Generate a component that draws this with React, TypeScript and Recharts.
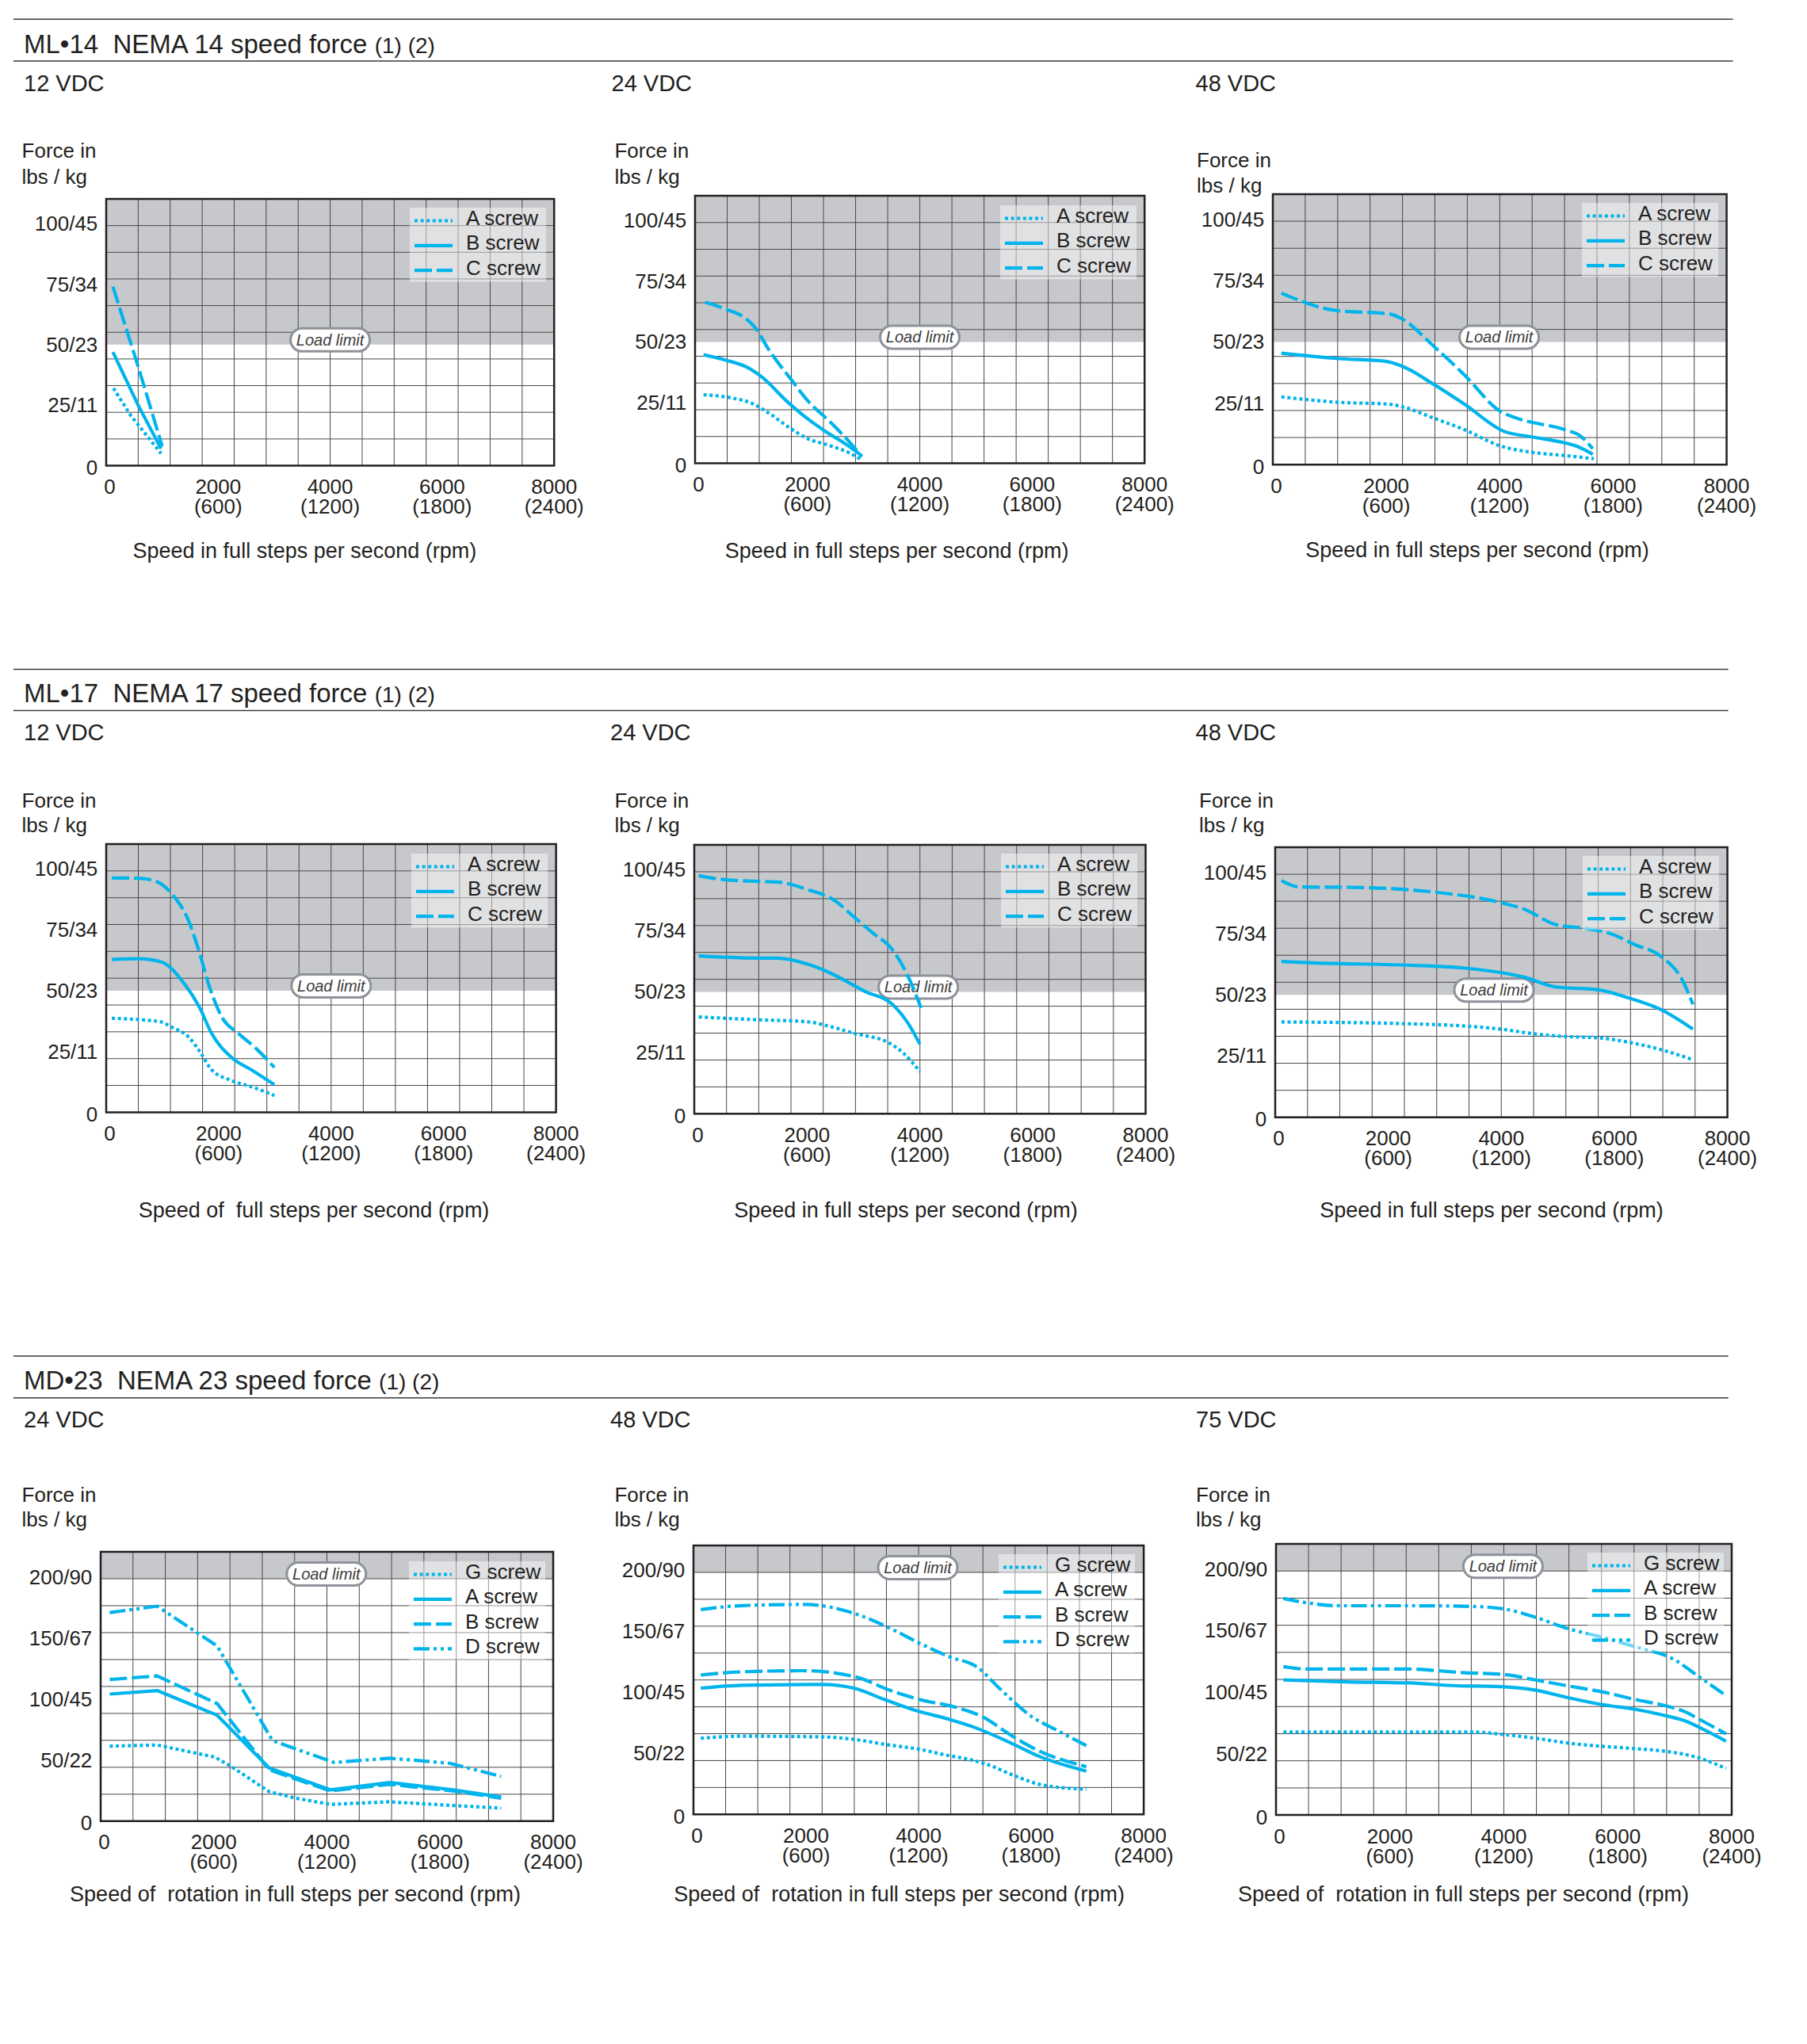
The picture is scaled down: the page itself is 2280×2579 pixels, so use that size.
import React from 'react';
import {
  LineChart,
  Line,
  XAxis,
  YAxis,
  CartesianGrid,
  ReferenceArea,
  ReferenceDot,
  Legend,
} from 'recharts';

const FONT = '"Liberation Sans", Arial, Helvetica, sans-serif';
const INK = '#231f20';
const CYAN = '#00b4ec';
const LIMIT_GRAY = '#c7c8cc';
const GRID = '#474747';
const BADGE_EDGE = '#8d9299';

const LB_PER_KG = 2.20462;

// Speed axis: full steps per second, with rpm underneath
const SPEED_TICKS = [0, 2000, 4000, 6000, 8000];
const RPM_LABELS = ['', '(600)', '(1200)', '(1800)', '(2400)'];

// Force axes: value in lbs, label "lbs/kg"
const FORCE_TICKS_S = [0, 25, 50, 75, 100];
const FORCE_LABELS_S = ['0', '25/11', '50/23', '75/34', '100/45'];
const FORCE_TICKS_L = [0, 50, 100, 150, 200];
const FORCE_LABELS_L = ['0', '50/22', '100/45', '150/67', '200/90'];

// Load limits (lbs)
const LOAD_LIMIT_S = 50;
const LOAD_LIMIT_L = 90 * LB_PER_KG;

// ---- ML•14 (speed, lbs) ----
const ml14_12_A = [[130, 32], [430, 21], [980, 5]];
const ml14_12_B = [[120, 47], [570, 25], [980, 7]];
const ml14_12_C = [[120, 74], [570, 41], [1000, 8]];

const ml14_24_A = [[150, 28.2], [630, 27], [1040, 24.4], [1310, 20.7], [1720, 14], [2000, 10.2], [2410, 7.2], [2750, 4.2], [2950, 1.6]];
const ml14_24_B = [[150, 44.7], [560, 42.4], [940, 39.4], [1180, 35.7], [1650, 25.2], [2000, 18.4], [2270, 13.9], [2680, 7.9], [2950, 3.4]];
const ml14_24_C = [[180, 66.4], [560, 63.4], [900, 59.7], [1070, 55.9], [1310, 46.9], [1720, 34.2], [2000, 25.9], [2410, 16.9], [2750, 8.7], [2970, 2.7]];

const ml14_48_A = [[150, 27.6], [1160, 25.4], [2060, 24.6], [2310, 23.4], [2830, 19], [3380, 14.2], [4010, 7.6], [4570, 5], [5190, 3.6], [5660, 2.4]];
const ml14_48_B = [[150, 45.4], [1160, 43.2], [1990, 42.1], [2270, 40.2], [2830, 32.8], [3380, 24.6], [4080, 13.5], [4570, 11.3], [5190, 8.6], [5400, 7.1], [5640, 4.2]];
const ml14_48_C = [[150, 69.9], [1090, 62.9], [2060, 61.4], [2270, 59.5], [2830, 48.4], [3380, 36.5], [4010, 21.7], [4290, 19], [5190, 13.9], [5400, 12], [5640, 6.5]];

// ---- ML•17 ----
const ml17_12_A = [[100, 38.6], [570, 38.1], [980, 37.1], [1180, 34.8], [1460, 31.1], [1660, 25.1], [1870, 17.6], [2210, 13.2], [2620, 10.2], [2990, 6.9]];
const ml17_12_B = [[100, 62.8], [570, 63.1], [980, 61.8], [1390, 52.8], [1660, 43.1], [1870, 32.6], [2210, 22.9], [2620, 16.9], [2990, 11.4]];
const ml17_12_C = [[100, 96.3], [570, 96.2], [910, 94.7], [1180, 89.4], [1460, 79], [1660, 65.5], [1830, 52], [2070, 38.6], [2340, 32.6], [2680, 25.9], [2990, 18.4]];

const ml17_24_A = [[80, 39.7], [1060, 38.6], [2010, 37.7], [2420, 35.7], [2830, 33], [3440, 29.2], [3710, 24.8], [4000, 17.3]];
const ml17_24_B = [[80, 64.7], [1190, 63.8], [1460, 63.8], [2010, 61.3], [2420, 57.6], [3030, 50.1], [3510, 44.9], [3780, 37.4], [4000, 28.5]];
const ml17_24_C = [[80, 97.6], [370, 96.4], [1060, 95.3], [1460, 95], [2010, 91.9], [2490, 87.4], [2830, 80.7], [3170, 74], [3510, 67.3], [3780, 56.8], [4020, 43.4]];

const ml17_48_A = [[110, 38.9], [2310, 38.2], [3980, 36], [4540, 34.2], [5100, 33], [5730, 32.4], [6280, 30.5], [6840, 27.5], [7390, 23.5]];
const ml17_48_B = [[110, 63.6], [570, 63.1], [2310, 62.1], [3350, 60.9], [3980, 59.1], [4400, 57.2], [4960, 53.2], [5730, 52], [6210, 49], [6840, 43.8], [7390, 36]];
const ml17_48_C = [[110, 96.6], [430, 94], [1260, 93.9], [2870, 91.8], [3980, 87.7], [4400, 85], [4960, 78.7], [5520, 77], [5930, 75], [6350, 70.6], [6840, 65.4], [7190, 56.5], [7390, 46.1]];

// ---- MD•23 ----
const md23_24_G = [[160, 61.4], [1000, 62.3], [2020, 52.4], [2300, 45], [2980, 24.1], [3450, 18.8], [4060, 13.7], [5110, 15.8], [6230, 12.8], [7080, 10.7]];
const md23_24_A = [[160, 104], [1000, 106.9], [2060, 86.7], [2980, 43.5], [4060, 25.6], [5110, 31.6], [6230, 25.6], [7080, 19.7]];
const md23_24_B = [[160, 115.9], [1000, 118.9], [2060, 96.2], [2980, 42], [4060, 24.7], [5110, 30.1], [6230, 24.7], [7080, 18.8]];
const md23_24_D = [[160, 170.7], [1000, 176], [2060, 143.3], [3040, 65.8], [4130, 48], [5110, 51.5], [6170, 47.4], [7080, 36.6]];

const md23_48_G = [[130, 62.4], [870, 64.1], [2300, 63.5], [2850, 61.5], [3460, 57], [4010, 53.4], [4490, 48.6], [4960, 44.4], [5240, 40.6], [5710, 31.6], [6190, 24.2], [6980, 20.6]];
const md23_48_A = [[130, 103.5], [870, 105.9], [2300, 106.5], [2850, 103.5], [3390, 94.3], [3940, 85.3], [4550, 77.9], [4960, 71.9], [5710, 57], [6120, 48], [6980, 35.5]];
const md23_48_B = [[130, 114.3], [870, 116.9], [1960, 117.8], [2920, 112.2], [3460, 102.3], [4010, 94.3], [4690, 87.4], [5100, 80.8], [5710, 62.9], [6120, 52.5], [6980, 39.1]];
const md23_48_D = [[130, 167.9], [870, 171.2], [1960, 172.1], [2920, 163.8], [3460, 153.3], [4010, 140.5], [4550, 129.2], [5030, 121.1], [5440, 103.2], [5990, 80.8], [6460, 68.9], [6980, 56.4]];

const md23_75_G = [[130, 67.5], [3450, 67.5], [4010, 65.4], [4560, 62.4], [5110, 58.6], [6220, 54.2], [6840, 51.8], [7400, 46.8], [7900, 37.9]];
const md23_75_A = [[130, 109.8], [1240, 108.3], [2350, 107.4], [3180, 105.1], [3870, 104.5], [4560, 101.5], [5110, 95.6], [5740, 89.7], [6290, 86.1], [6840, 80.8], [7190, 76.4], [7470, 70.4], [7900, 60.1]];
const md23_75_B = [[130, 120.7], [550, 118.7], [2280, 118.7], [3320, 115.7], [4010, 114.2], [4560, 109.8], [5110, 105.1], [5740, 100], [6290, 94.1], [6840, 88.8], [7190, 83.8], [7470, 76.9], [7900, 66]];
const md23_75_D = [[130, 176.1], [550, 172.5], [1100, 170.2], [2280, 170.2], [3450, 169.6], [4010, 167.5], [4560, 160.7], [5110, 151.8], [5740, 144.4], [6290, 137], [6980, 126.7], [7400, 113.3], [7900, 97.1]];

// Line patterns
const DOTTED = '4 3.6';
const DASHED = '22 6';
const DASH_DOT_DOT = '20 5 4 5 4 5';
const LINE_W = 4.2;

// Grid: every 5 kg / 10 kg horizontally, 14 divisions of the speed range
const V_GRID = Array.from({ length: 13 }, (_, k) => ((k + 1) * 8000) / 14);
const H_GRID_S = Array.from({ length: 9 }, (_, k) => (k + 1) * 5 * LB_PER_KG);
const H_GRID_L = Array.from({ length: 9 }, (_, k) => (k + 1) * 10 * LB_PER_KG);
const MAX_S = 50 * LB_PER_KG;
const MAX_L = 100 * LB_PER_KG;

type Series = { name: string; data: number[][]; dash?: string };
type PanelSpec = {
  left: number;
  top: number;
  w: number;
  h: number;
  large: boolean;
  badgeX: number;
  curve: 'monotone' | 'linear';
  series: Series[];
};

const abc = (a: number[][], b: number[][], c: number[][]): Series[] => [
  { name: 'A screw', data: a, dash: DOTTED },
  { name: 'B screw', data: b },
  { name: 'C screw', data: c, dash: DASHED },
];
const gabd = (g: number[][], a: number[][], b: number[][], d: number[][]): Series[] => [
  { name: 'G screw', data: g, dash: DOTTED },
  { name: 'A screw', data: a },
  { name: 'B screw', data: b, dash: DASHED },
  { name: 'D screw', data: d, dash: DASH_DOT_DOT },
];

const PANELS: PanelSpec[] = [
  { left: 134.3, top: 250.7, w: 565.2, h: 336.5, large: false, badgeX: 4000, curve: 'linear', series: abc(ml14_12_A, ml14_12_B, ml14_12_C) },
  { left: 877.2, top: 247.0, w: 567.2, h: 337.5, large: false, badgeX: 4000, curve: 'monotone', series: abc(ml14_24_A, ml14_24_B, ml14_24_C) },
  { left: 1606, top: 244.7, w: 572.6, h: 341.2, large: false, badgeX: 3990, curve: 'monotone', series: abc(ml14_48_A, ml14_48_B, ml14_48_C) },
  { left: 134.3, top: 1065.4, w: 567.6, h: 338.4, large: false, badgeX: 4000, curve: 'monotone', series: abc(ml17_12_A, ml17_12_B, ml17_12_C) },
  { left: 875.8, top: 1065.9, w: 569.5, h: 339.3, large: false, badgeX: 3970, curve: 'monotone', series: abc(ml17_24_A, ml17_24_B, ml17_24_C) },
  { left: 1609, top: 1068.6, w: 570.6, h: 340.7, large: false, badgeX: 3870, curve: 'monotone', series: abc(ml17_48_A, ml17_48_B, ml17_48_C) },
  { left: 127, top: 1958.4, w: 571, h: 339.8, large: true, badgeX: 3990, curve: 'linear', series: gabd(md23_24_G, md23_24_A, md23_24_B, md23_24_D) },
  { left: 874.8, top: 1949.7, w: 568.1, h: 339.3, large: true, badgeX: 3985, curve: 'monotone', series: gabd(md23_48_G, md23_48_A, md23_48_B, md23_48_D) },
  { left: 1610, top: 1947.8, w: 575, h: 342.1, large: true, badgeX: 3985, curve: 'monotone', series: gabd(md23_75_G, md23_75_A, md23_75_B, md23_75_D) },
];

// Section headers and per-panel captions
const SECTIONS = [
  { ruleTop: 24.3, ruleBot: 77.1, ruleEnd: 2186.6, base: 66.6, title: 'ML\u202214  NEMA 14 speed force ' },
  { ruleTop: 844.6, ruleBot: 896.5, ruleEnd: 2180.6, base: 885.9, title: 'ML\u202217  NEMA 17 speed force ' },
  { ruleTop: 1711, ruleBot: 1763.7, ruleEnd: 2180.6, base: 1752.7, title: 'MD\u202223  NEMA 23 speed force ' },
];

const CAPTIONS = [
  { volt: '12 VDC', vx: 30, vy: 114.8, fx: 27.6, fy: 198.8, ly: 231.9, xt: 'Speed in full steps per second (rpm)', tx: 384.4, ty: 703.9 },
  { volt: '24 VDC', vx: 771.5, vy: 114.8, fx: 775.4, fy: 198.8, ly: 231.9, xt: 'Speed in full steps per second (rpm)', tx: 1131.7, ty: 703.9 },
  { volt: '48 VDC', vx: 1508.5, vy: 114.8, fx: 1510, fy: 211.2, ly: 243.0, xt: 'Speed in full steps per second (rpm)', tx: 1864, ty: 702.5 },
  { volt: '12 VDC', vx: 30, vy: 934.1, fx: 27.6, fy: 1019.1, ly: 1050.3, xt: 'Speed of  full steps per second (rpm)', tx: 396, ty: 1535.6 },
  { volt: '24 VDC', vx: 770, vy: 934.1, fx: 775.4, fy: 1019.1, ly: 1050.3, xt: 'Speed in full steps per second (rpm)', tx: 1143, ty: 1535.6 },
  { volt: '48 VDC', vx: 1508.5, vy: 934.1, fx: 1513, fy: 1019.1, ly: 1050.3, xt: 'Speed in full steps per second (rpm)', tx: 1882, ty: 1535.6 },
  { volt: '24 VDC', vx: 30, vy: 1800.9, fx: 27.6, fy: 1895, ly: 1925.8, xt: 'Speed of  rotation in full steps per second (rpm)', tx: 372.5, ty: 2398.7 },
  { volt: '48 VDC', vx: 770, vy: 1800.9, fx: 775.4, fy: 1895, ly: 1925.8, xt: 'Speed of  rotation in full steps per second (rpm)', tx: 1134.6, ty: 2398.7 },
  { volt: '75 VDC', vx: 1509, vy: 1800.9, fx: 1509, fy: 1895, ly: 1925.8, xt: 'Speed of  rotation in full steps per second (rpm)', tx: 1846.5, ty: 2398.7 },
];

const toPoints = (arr: number[][]) => arr.map(([x, y]) => ({ x, y }));

const ML = 110;
const MT = 12;
const MR = 70;
const XH = 80;
const LEGEND_W = 172;

function SpeedTick(props: any) {
  const { x, y, payload } = props;
  const i = SPEED_TICKS.indexOf(payload.value);
  return (
    <g>
      <text
        x={x + (payload.value === 0 ? 4.5 : 0)}
        y={y + 35.5}
        textAnchor="middle"
        fontSize={26}
        fontFamily={FONT}
        fill={INK}
      >
        {payload.value}
      </text>
      {RPM_LABELS[i] ? (
        <text x={x} y={y + 60.5} textAnchor="middle" fontSize={26} fontFamily={FONT} fill={INK}>
          {RPM_LABELS[i]}
        </text>
      ) : null}
    </g>
  );
}

function ForceTick(props: any) {
  const { x, y, payload, ticks, labels } = props;
  const i = ticks.indexOf(payload.value);
  return (
    <text
      x={x - 10.7}
      y={y + (payload.value === 0 ? 11.5 : 9)}
      textAnchor="end"
      fontSize={26}
      fontFamily={FONT}
      fill={INK}
    >
      {labels[i]}
    </text>
  );
}

function LoadLimitBadge(props: any) {
  const { cx, cy } = props;
  if (cx == null || cy == null) return null;
  const c = cy - 6;
  return (
    <g>
      <rect x={cx - 50} y={c - 14.5} width={100} height={29} rx={14.5} fill="#fff" stroke={BADGE_EDGE} strokeWidth={3} />
      <text x={cx} y={c + 7} textAnchor="middle" fontStyle="italic" fontSize={20} fontFamily={FONT} fill="#3b3b3b">
        Load limit
      </text>
    </g>
  );
}

function LegendBox({ series, h }: { series: Series[]; h: number }) {
  return (
    <svg width={LEGEND_W} height={h} style={{ display: 'block', overflow: 'visible' }}>
      <rect x={0} y={0} width={LEGEND_W} height={h} fill="#fff" fillOpacity={0.45} />
      {series.map((s, i) => {
        const base = 22 + i * 31.3;
        return (
          <g key={s.name}>
            <line
              x1={6}
              x2={54}
              y1={base - 5.5}
              y2={base - 5.5}
              stroke={CYAN}
              strokeWidth={LINE_W}
              strokeDasharray={s.dash}
            />
            <text x={71} y={base} fontSize={26} fontFamily={FONT} fill={INK}>
              {s.name}
            </text>
          </g>
        );
      })}
    </svg>
  );
}

function ChartPanel({ p }: { p: PanelSpec }) {
  const yMax = p.large ? MAX_L : MAX_S;
  const yTicks = p.large ? FORCE_TICKS_L : FORCE_TICKS_S;
  const yLabels = p.large ? FORCE_LABELS_L : FORCE_LABELS_S;
  const hGrid = p.large ? H_GRID_L : H_GRID_S;
  const limit = p.large ? LOAD_LIMIT_L : LOAD_LIMIT_S;
  const legendH = p.series.length * 31.3 - 0.5;

  return (
    <div style={{ position: 'absolute', left: p.left - ML, top: p.top - MT }}>
      <LineChart
        width={p.w + ML + MR}
        height={p.h + MT + XH}
        margin={{ top: MT, right: MR, bottom: 0, left: 0 }}
      >
        <XAxis
          type="number"
          dataKey="x"
          domain={[0, 8000]}
          ticks={SPEED_TICKS}
          interval={0}
          allowDataOverflow
          axisLine={false}
          tickLine={false}
          tickSize={0}
          tickMargin={0}
          height={XH}
          tick={(props: any) => <SpeedTick {...props} />}
        />
        <YAxis
          type="number"
          domain={[0, yMax]}
          ticks={yTicks}
          interval={0}
          allowDataOverflow
          axisLine={false}
          tickLine={false}
          tickSize={0}
          tickMargin={0}
          width={ML}
          tick={(props: any) => <ForceTick {...props} ticks={yTicks} labels={yLabels} />}
        />
        <ReferenceArea
          x1={0}
          x2={8000}
          y1={limit}
          y2={yMax}
          fill={LIMIT_GRAY}
          fillOpacity={1}
          stroke="none"
          zIndex={-200}
        />
        <CartesianGrid stroke={GRID} strokeWidth={1} horizontalValues={hGrid} verticalValues={V_GRID} />
        <ReferenceDot
          x={p.badgeX}
          y={limit}
          r={0}
          zIndex={350}
          shape={(props: any) => <LoadLimitBadge {...props} />}
        />
        {p.series.map((s) => (
          <Line
            key={s.name}
            data={toPoints(s.data)}
            dataKey="y"
            type={p.curve}
            stroke={CYAN}
            strokeWidth={LINE_W}
            strokeDasharray={s.dash}
            strokeLinecap="butt"
            strokeLinejoin="round"
            dot={false}
            activeDot={false}
            isAnimationActive={false}
          />
        ))}
        <ReferenceArea
          x1={0}
          x2={8000}
          y1={0}
          y2={yMax}
          fill="none"
          stroke={INK}
          strokeWidth={2.5}
          zIndex={1000}
        />
        <Legend
          layout="horizontal"
          verticalAlign="middle"
          align="center"
          wrapperStyle={{
            left: ML + p.w - 10.5 - LEGEND_W,
            top: MT + 11.5,
            width: LEGEND_W,
            height: legendH,
            margin: 0,
            padding: 0,
          }}
          content={() => <LegendBox series={p.series} h={legendH} />}
        />
      </LineChart>
    </div>
  );
}

export default function App() {
  return (
    <div
      style={{
        position: 'absolute',
        left: 0,
        top: 0,
        width: 2280,
        height: 2579,
        background: '#fff',
        fontFamily: FONT,
      }}
    >
      <svg width={2280} height={2579} style={{ position: 'absolute', left: 0, top: 0 }}>
        {SECTIONS.map((s) => (
          <g key={s.title}>
            <line x1={17} x2={s.ruleEnd} y1={s.ruleTop} y2={s.ruleTop} stroke="#3a3a3a" strokeWidth={1.5} />
            <line x1={17} x2={s.ruleEnd} y1={s.ruleBot} y2={s.ruleBot} stroke="#3a3a3a" strokeWidth={1.5} />
            <text x={30} y={s.base} fontSize={33} fontFamily={FONT} fill={INK} style={{ whiteSpace: 'pre' }}>
              <tspan>{s.title}</tspan>
              <tspan fontSize={28}>(1) (2)</tspan>
            </text>
          </g>
        ))}
        {CAPTIONS.map((c, i) => (
          <g key={i}>
            <text x={c.vx} y={c.vy} fontSize={29} fontFamily={FONT} fill={INK}>
              {c.volt}
            </text>
            <text x={c.fx} y={c.fy} fontSize={26} fontFamily={FONT} fill={INK}>
              Force in
            </text>
            <text x={c.fx} y={c.ly} fontSize={26} fontFamily={FONT} fill={INK} style={{ whiteSpace: 'pre' }}>
              lbs / kg
            </text>
            <text
              x={c.tx}
              y={c.ty}
              textAnchor="middle"
              fontSize={27}
              fontFamily={FONT}
              fill={INK}
              style={{ whiteSpace: 'pre' }}
            >
              {c.xt}
            </text>
          </g>
        ))}
      </svg>
      {PANELS.map((p, i) => (
        <ChartPanel key={i} p={p} />
      ))}
    </div>
  );
}
